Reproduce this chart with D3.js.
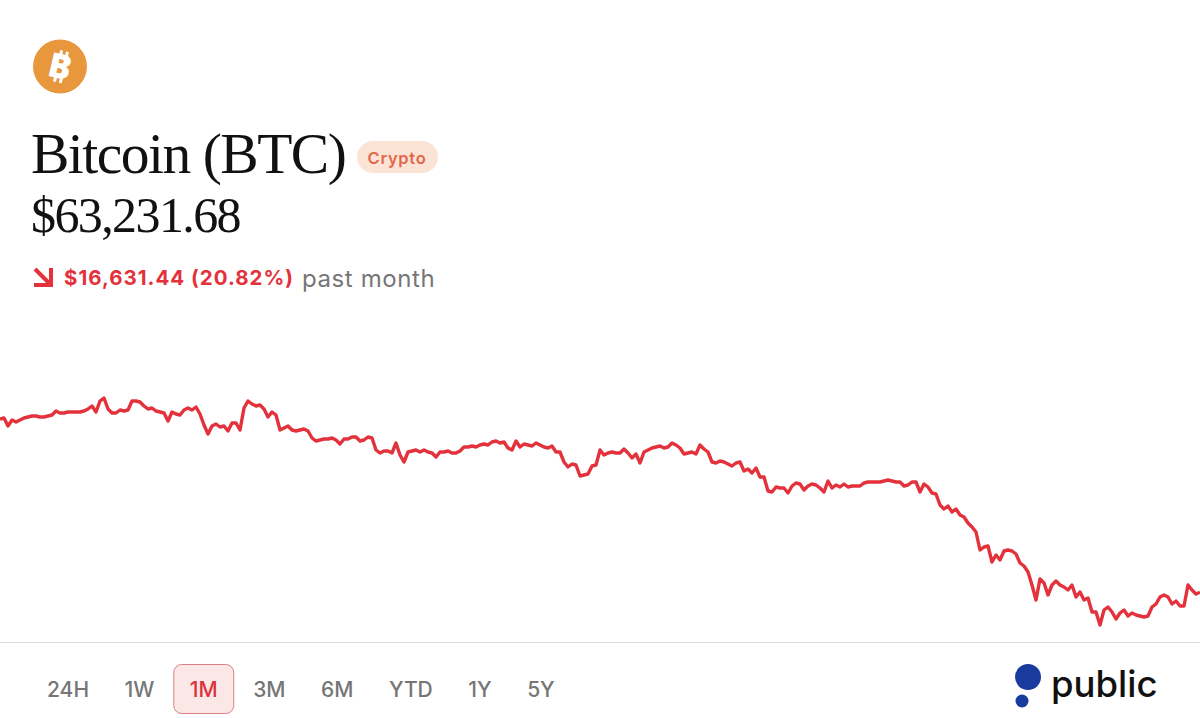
<!DOCTYPE html>
<html>
<head>
<meta charset="utf-8">
<title>Bitcoin (BTC)</title>
<script src="https://cdn.jsdelivr.net/npm/d3@7"></script>
<style>
  html, body { margin: 0; padding: 0; background: #fff; }
  svg { display: block; }
</style>
</head>
<body>
<svg id="chart" width="1200" height="718"></svg>
<script>
// Asset header
const assetName = "Bitcoin (BTC)";
const assetTag = "Crypto";
const lastPrice = "$63,231.68";
const priceChange = "$16,631.44 (20.82%)";
const changePeriod = "past month";
const brandName = "public";

// Selectable time ranges and the active one
const timeRanges = ["24H", "1W", "1M", "3M", "6M", "YTD", "1Y", "5Y"];
const activeRange = "1M";

// BTC price over the past month, USD, oldest first
const btcPrices = [
  79863.12,79959,79191,79767,79575,79767,79959,80055,80151,80151,80055,80055,80151,80247,80631,80439,80439,80535,80535,80535,80535,80631,80823,81111,80535,
  81591,81879,80823,80439,80439,80727,80631,80727,81591,81591,81495,81111,80823,80919,80631,80535,80439,79671,80535,80343,80247,80727,80919,80727,81015,
  80343,79287,78423,79191,79383,79095,79191,78711,79479,79479,78807,80919,81591,81303,81111,81207,80823,80055,80535,80247,78807,78999,79191,78807,78711,
  78807,78903,78711,78039,77751,77847,77943,77943,78039,77847,77463,77943,77943,78135,78135,77751,77847,78135,78039,76887,76599,76791,76791,76599,77559,
  76407,75735,76695,76791,76887,76695,76887,76695,76599,76215,76695,76695,76791,76599,76599,76791,77175,77175,77271,77175,77367,77463,77367,77655,77751,
  77559,77655,77079,76887,77751,77175,77463,77367,77271,77559,77367,77175,77079,77271,76695,76695,75735,75255,75543,75447,74391,74487,74583,75351,75447,
  76887,76407,76599,76695,76599,76599,76983,76599,76119,76503,75639,76695,76887,77079,77175,77271,77079,77175,77559,77367,77079,76503,76599,76695,76503,
  77367,76983,76695,75735,75639,75831,75735,75543,75351,75639,75735,74871,75063,74679,75159,74295,74295,72951,72855,73335,73239,73239,72759,73431,73719,
  73623,73047,73431,73623,73527,73239,72855,73911,73239,73527,73335,73623,73335,73431,73431,73431,73719,73815,73815,73815,73815,73911,74007,73911,73815,
  73815,73431,73527,73815,73815,72855,73623,73335,72759,72663,71607,71223,71511,70935,71223,70647,70455,69879,69495,69015,67287,67575,67671,66135,66807,
  66327,67191,67287,67191,66903,66039,65751,65175,63927,62487,64503,64119,62967,63927,64311,63927,63735,63447,63927,62775,63255,62487,62679,61335,61335,
  60087,61527,61815,61335,60663,61239,61527,60951,61239,61047,60951,60855,60951,61815,62103,62775,62967,62775,62103,62391,61911,61911,63927,63447,63063,
  63231.68
];

const width = 1200, height = 718;
const red = "#e3323c", grey = "#767676", ink = "#111";
const svg = d3.select("#chart");

// Price line: spans the full width, no visible axes
const x = d3.scaleLinear().domain([0, btcPrices.length - 1]).range([0, width]);
const y = d3.scaleLinear().domain([79863.12, 63231.68]).range([419, 592.24]);
const priceLine = d3.line().x((d, i) => x(i)).y(d => y(d)).curve(d3.curveLinear);

svg.append("path")
  .datum(btcPrices)
  .attr("d", priceLine)
  .attr("fill", "none")
  .attr("stroke", red)
  .attr("stroke-width", 3.4)
  .attr("stroke-linejoin", "round");

// Coin badge
const coin = svg.append("g").attr("transform", "translate(60,66.5)");
coin.append("circle").attr("r", 27).attr("fill", "#e8973c");
const mark = coin.append("g").attr("transform", "rotate(13)");
mark.append("text")
  .text("B")
  .attr("text-anchor", "middle")
  .attr("y", 12)
  .attr("font-family", "'Open Sans', sans-serif")
  .attr("font-weight", 800)
  .attr("font-size", 34)
  .attr("fill", "#fff");
for (const dx of [-3.5, 2.5]) {
  mark.append("rect").attr("x", dx).attr("y", -16).attr("width", 3).attr("height", 6).attr("fill", "#fff");
  mark.append("rect").attr("x", dx).attr("y", 10).attr("width", 3).attr("height", 6).attr("fill", "#fff");
}

// Title and price
svg.append("text")
  .text(assetName)
  .attr("x", 31).attr("y", 173)
  .attr("font-family", "'Liberation Serif', serif")
  .attr("font-size", 57.5)
  .attr("letter-spacing", -1.5)
  .attr("fill", ink);

svg.append("text")
  .text(lastPrice)
  .attr("x", 31).attr("y", 232)
  .attr("font-family", "'Liberation Serif', serif")
  .attr("font-size", 50)
  .attr("letter-spacing", -1.6)
  .attr("fill", ink);

// Category tag
svg.append("rect")
  .attr("x", 357).attr("y", 141).attr("width", 81).attr("height", 32).attr("rx", 16)
  .attr("fill", "#fbe4d6");
svg.append("text")
  .text(assetTag)
  .attr("x", 397).attr("y", 163.5)
  .attr("text-anchor", "middle")
  .attr("font-family", "Inter, sans-serif")
  .attr("font-weight", 600)
  .attr("font-size", 16.5)
  .attr("letter-spacing", 0.7)
  .attr("fill", "#e2684c");

// Change line with its down-right arrow
const arrow = svg.append("g")
  .attr("fill", "none").attr("stroke", red).attr("stroke-width", 4);
arrow.append("path").attr("d", d3.line()([[35, 269], [50, 284]]));
arrow.append("path").attr("d", d3.line()([[34, 285], [51, 285], [51, 268]]));

svg.append("text")
  .text(priceChange)
  .attr("x", 64).attr("y", 285)
  .attr("font-family", "Inter, sans-serif")
  .attr("font-weight", 700)
  .attr("font-size", 20.5)
  .attr("letter-spacing", 1)
  .attr("fill", red);
svg.append("text")
  .text(changePeriod)
  .attr("x", 302).attr("y", 287)
  .attr("font-family", "Inter, sans-serif")
  .attr("font-size", 24)
  .attr("letter-spacing", 0.6)
  .attr("fill", grey);

// Footer divider
svg.append("line")
  .attr("x1", 0).attr("x2", width).attr("y1", 642.5).attr("y2", 642.5)
  .attr("stroke", "#dedede").attr("stroke-width", 1);

// Time-range selector, laid out left to right from the text widths
const rangeGap = 35.5;
let cursor = 47;
const rangeRow = svg.append("g");
timeRanges.forEach(label => {
  const active = label === activeRange;
  const button = rangeRow.append("g");
  const text = button.append("text")
    .text(label)
    .attr("x", cursor).attr("y", 696.5)
    .attr("font-family", "Inter, sans-serif")
    .attr("font-weight", 500)
    .attr("font-size", 21)
    .attr("fill", active ? "#d9323f" : grey);
  const w = text.node().getComputedTextLength();
  if (active) {
    button.insert("rect", "text")
      .attr("x", cursor + w / 2 - 30).attr("y", 664.5)
      .attr("width", 60).attr("height", 49).attr("rx", 8)
      .attr("fill", "#fbe7e5").attr("stroke", "#dc7f86").attr("stroke-width", 1);
  }
  cursor += w + rangeGap;
});

// Brand mark
const brand = svg.append("g").attr("fill", "#1a3b9e");
brand.append("circle").attr("cx", 1028).attr("cy", 677).attr("r", 13);
brand.append("circle").attr("cx", 1022).attr("cy", 701).attr("r", 6.5);
svg.append("text")
  .text(brandName)
  .attr("x", 1051).attr("y", 697)
  .attr("font-family", "Inter, sans-serif")
  .attr("font-weight", 500)
  .attr("font-size", 36.5)
  .attr("fill", "#111");
</script>
</body>
</html>
